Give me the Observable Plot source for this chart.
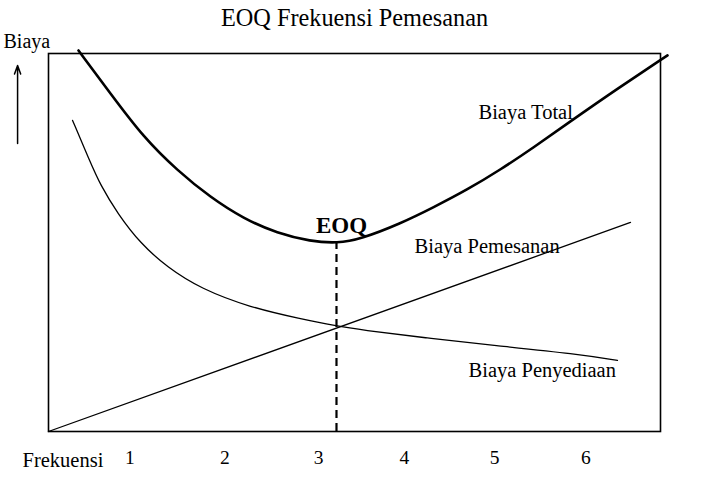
<!DOCTYPE html>
<html>
<head>
<meta charset="utf-8">
<script src="https://cdn.jsdelivr.net/npm/d3@7"></script>
<script src="https://cdn.jsdelivr.net/npm/@observablehq/plot@0.6"></script>
<style>
  html, body { margin: 0; padding: 0; background: #fff; }
  #chart svg { display: block; }
</style>
</head>
<body>
<div id="chart"></div>
<script>
// ---- data (frequency units on x, cost units on y) ----
const totalF = [0.436, 0.787, 1.149, 1.522, 1.884, 2.246, 2.618, 2.980, 3.276, 3.528, 3.967, 4.329, 4.702, 5.064, 5.425, 5.798, 6.346, 6.895];
const totalC = [100.8, 89.4, 77.8, 69.0, 61.9, 56.3, 52.4, 50.3, 49.8, 50.9, 55.0, 59.3, 64.0, 69.3, 75.1, 81.5, 90.7, 99.5];

const penyediaanF = [0.371, 0.557, 0.678, 0.864, 1.116, 1.412, 1.774, 2.322, 2.870, 3.265, 3.528, 4.263, 4.987, 5.908, 6.346];
const penyediaanC = [82.3, 71.7, 65.1, 57.7, 49.7, 43.4, 37.8, 32.8, 29.8, 27.9, 26.9, 24.7, 22.8, 20.5, 18.8];

const pemesananF = [0.107, 6.489];
const pemesananC = [0, 55.3];

const eoqF = 3.265;
const eoqC = 50.0;

const tickPos = [1, 2.04, 3.07, 4.01, 5.0, 6.0];
const tickLabels = ["1", "2", "3", "4", "5", "6"];

const seriesLabels = [
  {f: 4.822, c: 82.8, text: "Biaya Total"},
  {f: 4.121, c: 47.1, text: "Biaya Pemesanan"},
  {f: 4.713, c: 14.3, text: "Biaya Penyediaan"}
];

const title = "EOQ Frekuensi Pemesanan";
const yLabel = "Biaya";
const xLabel = "Frekuensi";
const arrowData = [{f: -0.232, c1: 76.2, c2: 96.8}];

// ---- tables ----
const total = totalF.map((f, i) => ({f, c: totalC[i]}));
const penyediaan = penyediaanF.map((f, i) => ({f, c: penyediaanC[i]}));
const pemesanan = pemesananF.map((f, i) => ({f, c: pemesananC[i]}));
const ticks = tickPos.map((f, i) => ({f, label: tickLabels[i]}));

const font = "'Liberation Serif', 'Times New Roman', serif";

const chart = Plot.plot({
  width: 708,
  height: 480,
  marginLeft: 48,
  marginRight: 48,
  marginTop: 53,
  marginBottom: 49,
  style: {fontFamily: font, background: "#fff", color: "#000"},
  x: {domain: [0.107, 6.818], axis: null},
  y: {domain: [0, 100], axis: null},
  marks: [
    Plot.frame({stroke: "#000", strokeWidth: 1.6}),
    Plot.line(pemesanan, {x: "f", y: "c", stroke: "#000", strokeWidth: 1.3}),
    Plot.line(penyediaan, {x: "f", y: "c", stroke: "#000", strokeWidth: 1.3, curve: "basis"}),
    Plot.line(total, {x: "f", y: "c", stroke: "#000", strokeWidth: 2.6, curve: "basis"}),
    Plot.ruleX([eoqF], {y1: 0, y2: eoqC, stroke: "#000", strokeWidth: 2.2, strokeDasharray: "8,5"}),
    Plot.text(["EOQ"], {x: eoqF + 0.055, y: eoqC + 2.4, text: d => d, fontSize: 23, fontWeight: "bold", lineAnchor: "bottom", textAnchor: "middle"}),
    Plot.text(seriesLabels, {x: "f", y: "c", text: "text", fontSize: 20.5, textAnchor: "start", lineAnchor: "bottom"}),
    Plot.text(ticks, {x: "f", text: "label", frameAnchor: "bottom", dy: 32, fontSize: 19.5, lineAnchor: "bottom"}),
    Plot.text([xLabel], {frameAnchor: "bottom-left", dx: -26, dy: 35, text: d => d, fontSize: 20.5, textAnchor: "start", lineAnchor: "bottom"}),
    Plot.text([yLabel], {frameAnchor: "top-left", dx: -45, dy: -6, text: d => d, fontSize: 20, textAnchor: "start", lineAnchor: "bottom"}),
    Plot.text([title], {frameAnchor: "top", dy: -28, text: d => d, fontSize: 24.3, textAnchor: "middle", lineAnchor: "bottom"}),
    Plot.arrow(arrowData, {x1: "f", x2: "f", y1: "c1", y2: "c2", stroke: "#000", strokeWidth: 1.5, headLength: 9, headAngle: 40})
  ]
});

document.getElementById("chart").appendChild(chart);
</script>
</body>
</html>
